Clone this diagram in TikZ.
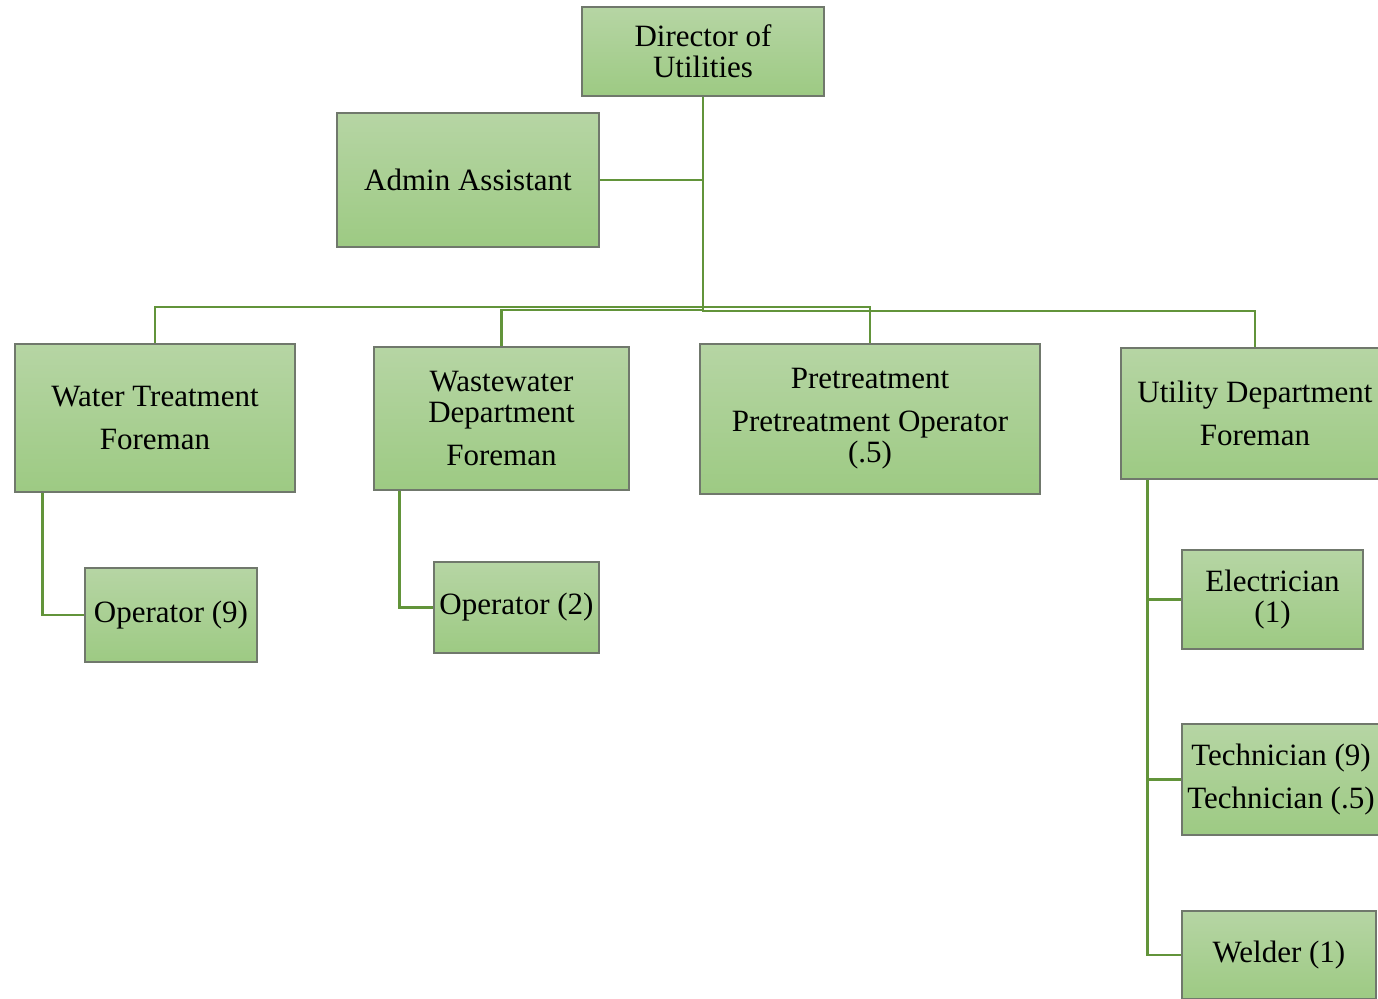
\documentclass[tikz,border=0pt]{standalone}
\usepackage{fontspec}
\setmainfont{Liberation Serif}
\begin{document}
\begin{tikzpicture}[x=0.5pt,y=-0.5pt,
  box/.style={draw=boxedge, line width=0.6pt,
    top color=boxtop, bottom color=boxbottom,
    inner sep=0pt, align=center, anchor=center,
    font=\fontsize{15.5}{15.5}\selectfont},
  link/.style={draw=linkgreen, line width=1.3pt}]
\definecolor{boxtop}{RGB}{182,213,164}
\definecolor{boxbottom}{RGB}{157,202,131}
\definecolor{boxedge}{RGB}{112,120,108}
\definecolor{linkgreen}{RGB}{98,148,58}
\useasboundingbox (0,0) rectangle (1378,998);
\clip (0,0) rectangle (1378,998);

% top level
\node[box, minimum width=121pt, minimum height=44.5pt] (dir) at (703,51.5) {Director of\\Utilities};
\node[box, minimum width=131pt, minimum height=67pt] (adm) at (468,180) {Admin Assistant};

% foremen row
\node[box, minimum width=140pt, minimum height=74pt] (wtf) at (155,418) {Water Treatment\\[6pt]Foreman};
\node[box, minimum width=127.5pt, minimum height=71.5pt] (wwf) at (501.5,418.5) {Wastewater\\Department\\[6pt]Foreman};
\node[box, minimum width=170pt, minimum height=75pt] (pre) at (870,419) {Pretreatment\\[6pt]Pretreatment Operator\\(.5)};
\node[box, minimum width=134pt, minimum height=65.5pt] (udf) at (1255,413.5) {Utility Department\\[6pt]Foreman};

% staff
\node[box, minimum width=86pt, minimum height=47pt] (op9) at (171,615) {Operator (9)};
\node[box, minimum width=82.5pt, minimum height=45.5pt] (op2) at (516.5,607.5) {Operator (2)};
\node[box, minimum width=90.5pt, minimum height=49.5pt] (ele) at (1272.5,599.5) {Electrician\\(1)};
\node[box, minimum width=99pt, minimum height=55.5pt] (tec) at (1281,779.5) {Technician (9)\\[6pt]Technician (.5)};
\node[box, minimum width=97pt, minimum height=44pt] (wel) at (1279,955) {Welder (1)};

% branch points under the director
\coordinate (hubA) at (703,307);
\coordinate (hubB) at (703,310);

\draw[link] (dir.south) -- (hubB);
\draw[link] (adm.east) -- (adm.east -| dir.south);
\draw[link] (hubA) -| (wtf.north);
\draw[link] (hubA) -| (pre.north);
\draw[link] (hubB) -| (wwf.north);
\draw[link] (hubB) -- ++(0,1) -| (udf.north);

% reporting lines inside each group
\draw[link] (wtf.south west) ++(28,0) |- (op9.west);
\draw[link] (wwf.south west) ++(26,0) |- (op2.west);
\draw[link] (udf.south west) ++(27,0) coordinate (ut) |- (wel.west);
\draw[link] (ut |- ele.west) -- (ele.west);
\draw[link] (ut |- tec.west) -- (tec.west);
\end{tikzpicture}
\end{document}
